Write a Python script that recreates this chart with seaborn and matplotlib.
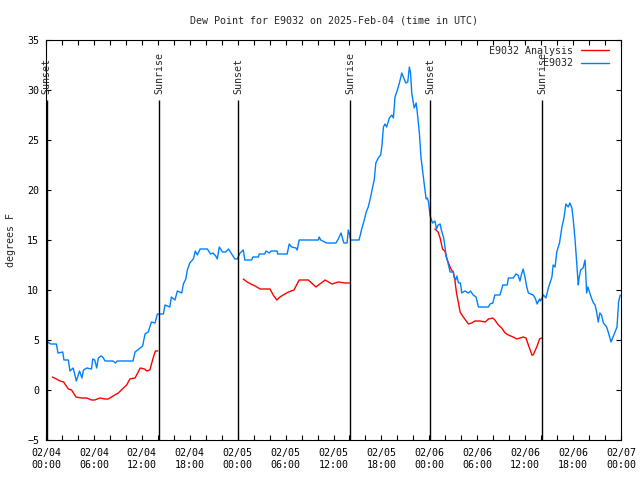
import pandas as pd
import matplotlib
matplotlib.use("Agg")
import matplotlib.pyplot as plt
import matplotlib.dates as mdates
import seaborn as sns

# hours since 2025-02-04 00:00 UTC, dew point in F
obs_hours = [0.0, 0.6, 1.3, 1.5, 2.1, 2.25, 2.8, 3.0, 3.4, 3.8, 4.2, 4.5, 4.7, 5.1, 5.7, 5.85,
             6.1, 6.35, 6.55, 6.9, 7.1, 7.4, 8.4, 8.7, 8.9, 10.9, 11.15, 11.8, 12.1, 12.4, 12.8,
             13.2, 13.65, 13.95, 14.7, 14.9, 15.5, 15.7, 16.15, 16.45, 17.0, 17.2, 17.5, 17.7,
             18.0, 18.45, 18.7, 18.95, 19.3, 20.2, 20.6, 20.9, 21.25, 21.45, 21.7, 22.1, 22.5,
             22.85, 23.25, 23.65, 23.95, 24.3, 24.7, 24.9, 25.75, 25.9, 26.6, 26.7, 27.4, 27.55,
             27.95, 28.2, 28.95, 29.0, 30.2, 30.45, 30.75, 31.3, 31.45, 31.7, 34.1, 34.2, 34.4,
             35.15, 36.3, 36.6, 36.95, 37.15, 37.3, 37.7, 37.85, 38.0, 38.15, 39.2, 39.5, 39.85,
             40.1, 40.35, 40.65, 40.9, 41.1, 41.3, 41.6, 41.9, 42.05, 42.25, 42.45, 42.65, 43.0,
             43.3, 43.5, 43.7, 44.0, 44.25, 44.55, 44.75, 45.05, 45.3, 45.5, 45.65, 45.8, 46.1,
             46.35, 46.5, 46.75, 46.95, 47.25, 47.45, 47.6, 47.75, 47.9, 48.1, 48.4, 48.7, 48.9,
             49.1, 49.35, 49.5, 49.8, 50.1, 50.4, 50.6, 51.0, 51.1, 51.3, 51.45, 51.65, 51.9,
             52.05, 52.45, 52.9, 53.15, 53.5, 53.85, 54.15, 55.4, 55.6, 55.95, 56.2, 56.85, 57.2,
             57.75, 57.9, 58.5, 58.85, 59.1, 59.35, 59.55, 59.75, 60.0, 60.2, 60.4, 61.0, 61.25,
             61.5, 61.8, 61.9, 62.3, 62.6, 62.9, 63.35, 63.5, 63.75, 63.95, 64.3, 64.6, 64.85,
             65.1, 65.4, 65.6, 65.85, 66.0, 66.25, 66.45, 66.65, 66.75, 66.95, 67.25, 67.5, 67.7,
             67.85, 68.1, 68.3, 68.55, 68.75, 68.95, 69.15, 69.35, 69.55, 69.8, 70.2, 70.4, 70.75,
             70.95, 71.35, 71.5, 71.7, 71.9]
obs_dew = [4.9, 4.6, 4.6, 3.7, 3.8, 3.0, 3.0, 1.9, 2.2, 0.9, 1.9, 1.2, 2.0, 2.2, 2.1, 3.1,
           3.0, 2.2, 3.2, 3.4, 3.3, 2.9, 2.9, 2.7, 2.9, 2.9, 3.8, 4.2, 4.4, 5.6, 5.8,
           6.8, 6.7, 7.6, 7.6, 8.5, 8.3, 9.3, 9.0, 9.9, 9.7, 10.6, 11.1, 12.0,
           12.7, 13.1, 13.9, 13.5, 14.1, 14.1, 13.6, 13.7, 13.4, 13.1, 14.3, 13.8, 13.8,
           14.1, 13.6, 13.1, 13.1, 13.7, 14.0, 13.0, 13.0, 13.3, 13.3, 13.6, 13.6, 13.9,
           13.7, 13.9, 13.9, 13.6, 13.6, 14.6, 14.3, 14.2, 14.0, 15.0, 15.0, 15.3, 15.0,
           14.7, 14.7, 15.1, 15.7, 15.1, 14.7, 14.7, 16.0, 15.6, 15.0, 15.0, 16.0, 17.0,
           17.8, 18.3, 19.3, 20.3, 21.0, 22.7, 23.2, 23.5, 24.3, 26.3, 26.6, 26.3, 27.2,
           27.5, 27.2, 29.3, 30.0, 30.7, 31.7, 31.3, 30.7, 30.8, 32.3, 31.7, 29.7, 28.2,
           28.7, 27.7, 25.7, 23.3, 21.3, 20.0, 19.1, 19.2, 18.8, 17.4, 16.7, 16.9, 16.1,
           16.5, 16.6, 16.0, 15.2, 13.5, 12.5, 11.8, 11.8, 11.3, 11.0, 11.4, 10.7, 10.7,
           9.7, 9.9, 9.7, 9.9, 9.5, 9.3, 8.3, 8.3, 8.6, 8.7, 9.5, 9.5, 10.5,
           10.5, 11.2, 11.2, 11.6, 11.5, 10.9, 11.6, 12.1, 11.2, 10.3, 9.7, 9.5, 9.2,
           8.6, 9.1, 8.9, 9.5, 9.2, 10.2, 11.3, 12.5, 12.3, 13.8, 14.7, 16.3, 17.2,
           18.6, 18.3, 18.7, 18.2, 17.2, 15.0, 12.7, 10.5, 11.2, 12.0, 12.2, 13.0, 9.7,
           10.3, 9.7, 9.2, 8.7, 8.5, 7.8, 6.8, 7.7, 7.5, 6.7, 6.3, 5.8, 4.8,
           5.2, 6.0, 6.3, 8.8, 9.5]

# analysis series, three nightly segments
ana_hours_1 = [0.8, 1.3, 1.75, 2.2, 2.8, 3.2, 3.75, 4.45, 5.1, 5.7, 6.1, 6.75, 7.4, 7.8, 8.4,
               9.05, 9.7, 10.1, 10.5, 11.15, 11.8, 12.35, 12.6, 13.0, 13.45, 13.7, 14.0]
ana_dew_1 = [1.3, 1.1, 0.9, 0.8, 0.1, 0.0, -0.7, -0.8, -0.8, -1.0, -1.0, -0.8, -0.9, -0.9, -0.6,
             -0.3, 0.2, 0.5, 1.1, 1.2, 2.2, 2.1, 1.9, 2.0, 3.3, 3.9, 3.9]
ana_hours_2 = [24.7, 25.2, 25.65, 26.2, 26.8, 28.05, 28.45, 28.9, 29.3, 29.7, 30.35, 31.05,
               31.7, 32.85, 33.8, 34.95, 35.8, 36.6, 37.45, 38.05]
ana_dew_2 = [11.1, 10.8, 10.6, 10.4, 10.1, 10.1, 9.5, 9.0, 9.3, 9.5, 9.8, 10.0,
             11.0, 11.0, 10.3, 11.0, 10.6, 10.8, 10.7, 10.7]
ana_hours_3 = [48.7, 49.1, 49.35, 49.65, 49.95, 50.15, 50.35, 50.7, 51.0, 51.2, 51.4, 51.65,
               51.85, 52.25, 52.9, 53.3, 53.7, 54.35, 55.0, 55.4, 55.95, 56.2, 56.65, 57.05,
               57.5, 57.9, 58.5, 58.95, 59.35, 59.75, 60.1, 60.4, 60.85, 61.0, 61.45, 61.8, 62.05]
ana_dew_3 = [16.1, 15.8, 15.2, 14.1, 13.9, 13.2, 12.8, 12.1, 11.8, 11.0, 9.7, 8.7,
             7.8, 7.3, 6.6, 6.7, 6.9, 6.9, 6.8, 7.1, 7.2, 7.0, 6.5, 6.2,
             5.7, 5.5, 5.3, 5.1, 5.2, 5.3, 5.2, 4.5, 3.5, 3.5, 4.3, 5.1, 5.2]

sun_labels = ["Sunset", "Sunrise", "Sunset", "Sunrise", "Sunset", "Sunrise"]
sun_hours = [0.08, 14.17, 24.1, 38.08, 48.13, 62.17]

start = pd.Timestamp("2025-02-04 00:00")

def to_time(hours):
    return start + pd.to_timedelta(hours, unit="h")

obs = pd.DataFrame({"time": to_time(obs_hours), "dew": obs_dew})
segments = [(ana_hours_1, ana_dew_1), (ana_hours_2, ana_dew_2), (ana_hours_3, ana_dew_3)]

sns.set_style("ticks")
plt.rcParams["font.family"] = ["DejaVu Sans Mono"]
plt.rcParams["font.size"] = 7.2

fig = plt.figure(figsize=(6.4, 4.8), dpi=100)
ax = fig.add_axes([46 / 640, 40 / 480, 575 / 640, 400 / 480])

# analysis only exists at night, so one line per segment
for i, (h, d) in enumerate(segments):
    seg = pd.DataFrame({"time": to_time(h), "dew": d})
    sns.lineplot(data=seg, x="time", y="dew", color="#ff0000", lw=1,
                 label="E9032 Analysis" if i == 0 else None, ax=ax)
sns.lineplot(data=obs, x="time", y="dew", color="#0080ff", lw=1, label="E9032", ax=ax)

for lab, h in zip(sun_labels, sun_hours):
    t = to_time(h)
    ax.vlines(t, -5, 29, color="black", lw=1)
    ax.text(t, 29.6, lab, rotation=90, ha="center", va="bottom", fontsize=7.2)

ax.set_xlim(start, start + pd.Timedelta(hours=72))
ax.set_ylim(-5, 35)
ax.set_yticks(range(-5, 36, 5))
ax.xaxis.set_major_locator(mdates.HourLocator(byhour=range(0, 24, 6)))
ax.xaxis.set_minor_locator(mdates.HourLocator(byhour=range(0, 24, 2)))
ax.xaxis.set_major_formatter(mdates.DateFormatter("%m/%d\n%H:%M"))

ax.tick_params(which="both", direction="in", top=True, right=True,
               length=3.5, width=0.8, colors="black", labelsize=7.2)
ax.tick_params(axis="x", pad=6)
ax.tick_params(axis="y", pad=5)
for s in ax.spines.values():
    s.set_linewidth(0.8)
    s.set_color("black")

ax.set_xlabel("")
ax.set_ylabel("degrees F", labelpad=8)
ax.set_title("Dew Point for E9032 on 2025-Feb-04 (time in UTC)", pad=12, fontsize=7.2)

handles, labels = ax.get_legend_handles_labels()
ax.legend(handles, labels, loc="upper right", bbox_to_anchor=(1 - 6 / 575, 1),
          frameon=False, markerfirst=False, handlelength=2.8, handletextpad=0.8,
          borderaxespad=0.2, borderpad=0.4, labelspacing=0.25, fontsize=7.2)

fig.savefig("out.png", dpi=100)
